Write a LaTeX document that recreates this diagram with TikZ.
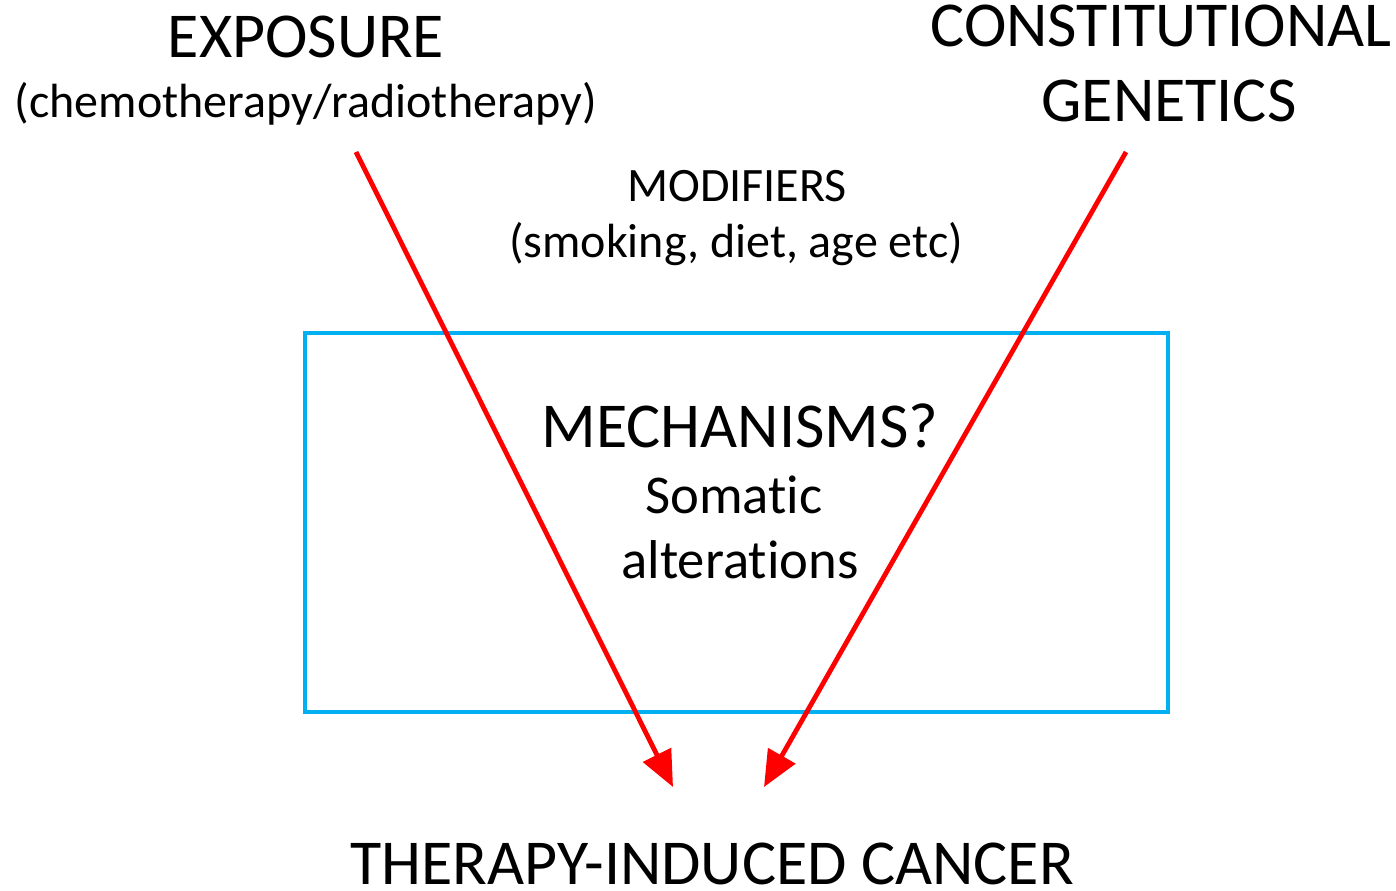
\documentclass[tikz,border=0pt]{standalone}
\usepackage{fontspec}
\setmainfont{Carlito}[Ligatures = NoCommon]
\usetikzlibrary{arrows.meta}
\definecolor{boxblue}{RGB}{0,176,240}
\definecolor{arrred}{RGB}{255,0,0}

\begin{document}
\begin{tikzpicture}[x = 0.75pt, y = -0.75pt, nodes = {anchor = base, inner sep = 0pt},
    big/.style = {font = \fontsize{48}{56}\selectfont},
    small/.style = {font = \fontsize{36}{42}\selectfont},
    cause/.style = {draw = arrred, line width = 3.6pt,
      -{Triangle[length = 27pt, width = 23pt]}}]
 \useasboundingbox (0,0) rectangle (1396,891);

 \node[big] (exposure) at (306,58) {EXPOSURE};
 \node[small] (exposureNote) at (306,118) {(chemotherapy/radiotherapy)};

 \node[big] (constitutional) at (1161,47) {CONSTITUTIONAL};
 \node[big] (genetics) at (1169,122) {GENETICS};

 \node[small] (modifiers) at (737,202) {MODIFIERS};
 \node[small] (modifiersNote) at (736,258) {(smoking, diet, age etc)};

 \draw[boxblue, line width = 3pt] (305,333) rectangle (1168,712);
 \node[big] (mechanisms) at (740,447) {MECHANISMS?};
 \node[font = \fontsize{41}{49}\selectfont] (somatic) at (734,513) {Somatic};
 \node[font = \fontsize{41}{49}\selectfont] (alterations) at (740,578) {alterations};

 \node[big] (cancer) at (712,884) {THERAPY-INDUCED CANCER};

 % arrows into the outcome
 \coordinate (exposureStart) at (356,152);
 \coordinate (exposureTip) at (673,787);
 \coordinate (geneticsStart) at (1126,152);
 \coordinate (geneticsTip) at (764,787);
 \draw[cause] (exposureStart) -- (exposureTip);
 \draw[cause] (geneticsStart) -- (geneticsTip);
\end{tikzpicture}
\end{document}
